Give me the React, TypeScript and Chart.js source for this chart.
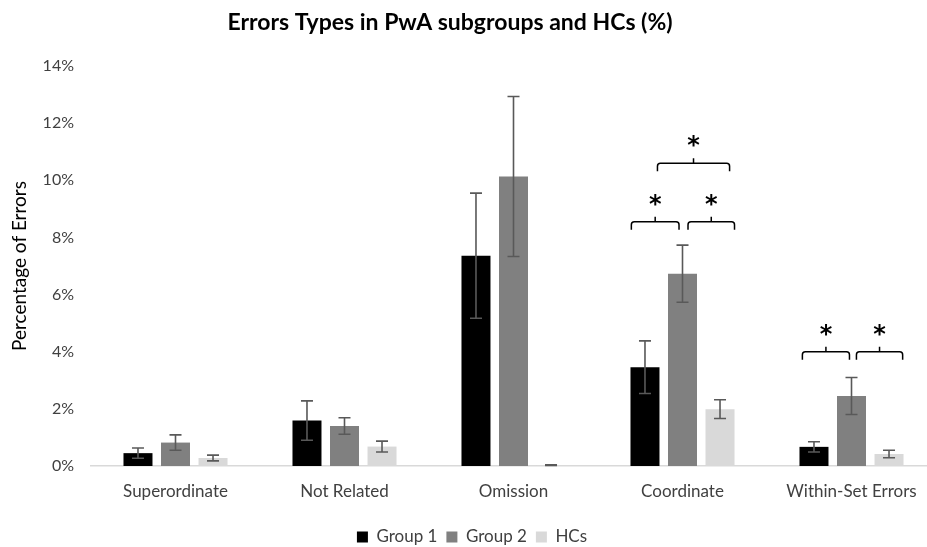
import React, { useEffect, useRef } from 'react';
import { Chart, registerables } from 'chart.js';

Chart.register(...registerables);

// ---------- data ----------
const categories = ['Superordinate', 'Not Related', 'Omission', 'Coordinate', 'Within-Set Errors'];
const seriesNames = ['Group 1', 'Group 2', 'HCs'];
const group1 = [0.45, 1.59, 7.36, 3.46, 0.67];
const group2 = [0.82, 1.4, 10.13, 6.73, 2.45];
const hcs = [0.28, 0.68, 0.03, 1.99, 0.42];
const group1Err = [0.18, 0.69, 2.19, 0.92, 0.18];
const group2Err = [0.27, 0.29, 2.8, 1.0, 0.65];
const hcsErr = [0.1, 0.19, 0.01, 0.33, 0.13];
const yTickValues = [0, 2, 4, 6, 8, 10, 12, 14];
const chartTitle = 'Errors Types in PwA subgroups and HCs (%)';
const yAxisTitle = 'Percentage of Errors';

// significance brackets: category index, from series, to series, level (%)
const sigCategory = [3, 3, 3, 4, 4];
const sigFrom = [0, 1, 0, 0, 1];
const sigTo = [1, 2, 2, 1, 2];
const sigLevel = [8.55, 8.55, 10.6, 4.0, 4.0];
const sigLabel = ['*', '*', '*', '*', '*'];

// ---------- styles ----------
const FONT = 'Lato, "Open Sans", sans-serif';
const colors = ['#000000', '#808080', '#d9d9d9'];
const errColor = '#595959';
const textColor = '#404040';
// anchors (fraction across the bar) for bracket ends
const bracketAnchors = [
  [0.03, 0.38],
  [0.69, 1.0],
  [0.93, 0.83],
  [0.1, 0.43],
  [0.67, 0.97],
];

const errorsBySeries = [group1Err, group2Err, hcsErr];

const titlePlugin = {
  id: 'customTitle',
  afterLayout(chart: any) {
    // nudge the legend down to its place near the bottom edge
    if (chart.legend) {
      chart.legend.top += 8.5;
      chart.legend.bottom += 8.5;
    }
  },
  afterDraw(chart: any) {
    const ctx = chart.ctx;
    ctx.save();
    ctx.font = `bold 23px ${FONT}`;
    ctx.fillStyle = '#000';
    ctx.textAlign = 'center';
    ctx.textBaseline = 'middle';
    ctx.fillText(chartTitle, 450, 23);
    ctx.restore();
  },
};

const errorBarPlugin = {
  id: 'errorBars',
  afterDatasetsDraw(chart: any) {
    const ctx = chart.ctx;
    const y = chart.scales.y;
    ctx.save();
    ctx.strokeStyle = errColor;
    ctx.lineWidth = 1.6;
    chart.data.datasets.forEach((ds: any, di: number) => {
      const meta = chart.getDatasetMeta(di);
      meta.data.forEach((bar: any, i: number) => {
        const v = ds.data[i];
        const e = errorsBySeries[di][i];
        const x = bar.x;
        const yt = y.getPixelForValue(v + e);
        const yb = y.getPixelForValue(v - e);
        const cap = 6;
        ctx.beginPath();
        ctx.moveTo(x, yt);
        ctx.lineTo(x, yb);
        ctx.moveTo(x - cap, yt);
        ctx.lineTo(x + cap, yt);
        ctx.moveTo(x - cap, yb);
        ctx.lineTo(x + cap, yb);
        ctx.stroke();
      });
    });
    ctx.restore();
  },
};

const bracketPlugin = {
  id: 'brackets',
  afterDatasetsDraw(chart: any) {
    const ctx = chart.ctx;
    const yScale = chart.scales.y;
    ctx.save();
    ctx.strokeStyle = '#000';
    ctx.fillStyle = '#000';
    ctx.lineWidth = 1.5;
    sigCategory.forEach((cat, k) => {
      const b1 = chart.getDatasetMeta(sigFrom[k]).data[cat];
      const b2 = chart.getDatasetMeta(sigTo[k]).data[cat];
      const x1 = b1.x - b1.width / 2 + bracketAnchors[k][0] * b1.width;
      const x2 = b2.x - b2.width / 2 + bracketAnchors[k][1] * b2.width;
      const y = yScale.getPixelForValue(sigLevel[k]);
      const hook = 8;
      const r = 3;
      const mid = (x1 + x2) / 2;
      ctx.beginPath();
      ctx.moveTo(x1, y + hook);
      ctx.lineTo(x1, y + r);
      ctx.quadraticCurveTo(x1, y, x1 + r, y);
      ctx.lineTo(x2 - r, y);
      ctx.quadraticCurveTo(x2, y, x2, y + r);
      ctx.lineTo(x2, y + hook);
      ctx.moveTo(mid, y);
      ctx.lineTo(mid, y - 5);
      ctx.stroke();
      ctx.font = `bold 24px "DejaVu Sans", sans-serif`;
      ctx.textAlign = 'center';
      ctx.textBaseline = 'alphabetic';
      const m = ctx.measureText(sigLabel[k]);
      const cy = y - 22;
      const base = cy + (m.actualBoundingBoxAscent - m.actualBoundingBoxDescent) / 2;
      ctx.fillText(sigLabel[k], mid, base);
    });
    ctx.restore();
  },
};

export default function App() {
  const ref = useRef<HTMLCanvasElement>(null);
  useEffect(() => {
    const seriesData = [group1, group2, hcs];
    const chart = new Chart(ref.current as HTMLCanvasElement, {
      type: 'bar',
      data: {
        labels: categories,
        datasets: seriesNames.map((name, i) => ({
          label: name,
          data: seriesData[i],
          backgroundColor: colors[i],
          borderWidth: 0,
          categoryPercentage: 0.666,
          barPercentage: 0.773,
        })),
      },
      options: {
        responsive: false,
        animation: false,
        layout: { padding: { top: 66, left: 8, right: 9, bottom: 0 } },
        plugins: {
          title: { display: false },
          tooltip: { enabled: false },
          legend: {
            position: 'bottom',
            labels: {
              boxWidth: 11,
              boxHeight: 11,
              padding: 9,
              color: textColor,
              font: { family: FONT, size: 17 },
            },
          },
        },
        scales: {
          x: {
            grid: { display: false, drawTicks: false },
            border: { color: '#d9d9d9', width: 1.5 },
            ticks: { padding: 15, color: textColor, font: { family: FONT, size: 17 } },
            afterFit: (s: any) => {
              s.height = 45;
            },
          },
          y: {
            min: 0,
            max: 14,
            grid: { display: false, drawTicks: false },
            border: { display: false },
            afterBuildTicks: (s: any) => {
              s.ticks = yTickValues.map((v) => ({ value: v }));
            },
            ticks: {
              padding: 17,
              color: textColor,
              font: { family: FONT, size: 16 },
              callback: (v: any) => `${v}%`,
            },
            title: {
              display: true,
              text: yAxisTitle,
              color: '#000',
              font: { family: FONT, size: 19 },
              padding: 0,
            },
            afterFit: (s: any) => {
              s.width = 83;
            },
          },
        },
      },
      plugins: [titlePlugin, errorBarPlugin, bracketPlugin],
    } as any);
    return () => chart.destroy();
  }, []);
  return (
    <div style={{ position: 'fixed', left: 0, top: 0, width: 927, height: 547, overflow: 'hidden', background: '#fff' }}>
      <canvas ref={ref} width={945} height={547} style={{ display: 'block' }} />
    </div>
  );
}
